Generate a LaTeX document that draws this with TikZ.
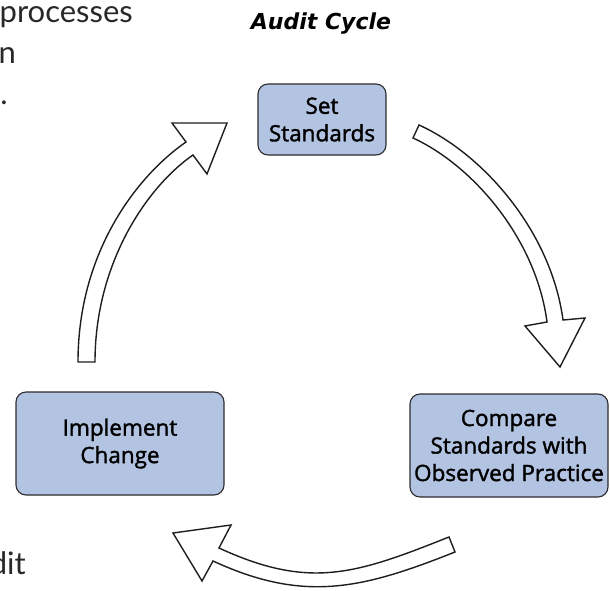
\documentclass[tikz,border=0pt]{standalone}
\usepackage{fontspec}
\setmainfont{Open Sans}
\newfontfamily\bodyfont{Lato}
\newfontfamily\boxfont[FakeBold=1.6]{Open Sans}
\newfontfamily\titlefont{DejaVu Sans}
\definecolor{boxfill}{RGB}{179,196,227}
\definecolor{boxline}{RGB}{45,45,45}
\definecolor{arrowline}{RGB}{30,30,30}
\definecolor{fragtext}{RGB}{40,40,40}
\begin{document}
\begin{tikzpicture}[x=1pt,y=-1pt,
  stagebox/.style={draw=boxline, line width=1.1pt, fill=boxfill,
    rounded corners=10pt, inner sep=0pt, align=center,
    font=\boxfont\fontsize{22.5}{27.5}\selectfont},
  hollow/.style={draw=arrowline, line width=1.4pt, fill=white, line join=miter},
  fragment/.style={font=\bodyfont\fontsize{31}{41}\selectfont,
    text=fragtext, inner sep=0pt, anchor=base east}]
\useasboundingbox (0,0) rectangle (610,591);
\clip (0,0) rectangle (610,591);

% running text of the surrounding page, cut at the left edge
\node[fragment] (frag1) at (133,23) {processes};
\node[fragment] (frag2) at (16,64) {n};
\node[fragment] (frag3) at (8,105) {.};
\node[fragment] (frag4) at (26,574) {dit};

% title
\node[font=\titlefont\bfseries\itshape\fontsize{22}{26}\selectfont, anchor=base, inner sep=0pt]
  (title) at (321,30) {Audit Cycle};

% the three stages
\node[stagebox, minimum width=128pt, minimum height=71pt] (set) at (322,119.5) {Set\\Standards};
\node[stagebox, minimum width=198pt, minimum height=103pt] (compare) at (509,445.5) {Compare\\Standards with\\Observed Practice};
\node[stagebox, minimum width=208pt, minimum height=103pt] (implement) at (120,443.5) {Implement\\Change};

% curved block arrows between the stages
\draw[hollow] (419,125) .. controls (483,154) and (551,231) .. (563,320)
  -- (585,318) -- (560,367) -- (525,326) -- (547,322)
  .. controls (536,238) and (472,165) .. (413,138) -- cycle;
\draw[hollow] (449,537) .. controls (356,574) and (310,590) .. (219,548)
  -- (231,525) -- (173,533) -- (202,581) -- (213,561)
  .. controls (304,603) and (362,589) .. (455,552) -- cycle;
\draw[hollow] (78,362) .. controls (78,252) and (137,176) .. (186,142)
  -- (172,123) -- (227,123) -- (207,174) -- (193,155)
  .. controls (148,186) and (95,262) .. (95,362) -- cycle;
\end{tikzpicture}
\end{document}
